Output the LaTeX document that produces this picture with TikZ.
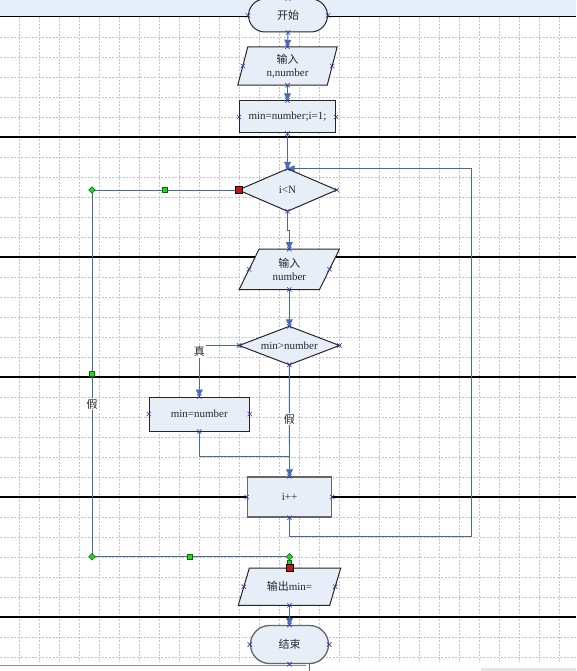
\documentclass[tikz,border=0pt]{standalone}
\usepackage{fontspec}
\setmainfont{Liberation Serif}
\newfontfamily\cjk{Noto Sans CJK SC}
\usetikzlibrary{arrows.meta,calc}
\definecolor{shapefill}{RGB}{232,238,248}
\definecolor{connc}{RGB}{74,104,160}
\definecolor{tipc}{RGB}{68,108,190}
\definecolor{cpcol}{RGB}{50,50,170}
\definecolor{gridc}{RGB}{195,195,195}
\definecolor{bandc}{RGB}{230,238,250}
\definecolor{txtc}{RGB}{40,40,40}
\definecolor{gfill}{RGB}{40,210,40}
\definecolor{gdraw}{RGB}{0,110,0}
\definecolor{rfill}{RGB}{200,20,20}
\pgfdeclarelayer{bg}\pgfdeclarelayer{connlayer}\pgfdeclarelayer{shp}
\pgfsetlayers{bg,connlayer,shp,main}
\tikzset{
  box/.style={rectangle, inner sep=0pt, align=center, font=\fontsize{11}{13}\selectfont, text=txtc},
  procbox/.style={box, draw=black!85, line width=1pt, fill=shapefill},
  procgray/.style={box, draw=black!60, line width=1.5pt, fill=shapefill},
  shapeline/.style={draw=black!85, line width=1pt, fill=shapefill},
  connline/.style={draw=connc, line width=0.9pt},
  arr/.style={connline, -{Triangle[length=7pt,width=7pt,color=tipc]}},
  lbl/.style={fill=white, inner sep=1pt, font=\fontsize{11}{13}\selectfont, text=txtc},
  gridl/.style={draw=gridc, line width=0.5pt, dash pattern=on 2pt off 1.5pt},
  pagel/.style={draw=black, line width=1.1pt},
  gdia/.style={rectangle, rotate=45, minimum size=4.6pt, inner sep=0pt, fill=gfill, draw=gdraw, line width=0.5pt},
  gsq/.style={rectangle, minimum size=5pt, inner sep=0pt, fill=gfill, draw=gdraw, line width=0.5pt},
  rsq/.style={rectangle, minimum size=7pt, inner sep=0pt, fill=rfill, draw=black, line width=0.6pt},
  cp/.pic={\draw[cpcol, line width=0.6pt] (-2.2,-2.2) -- (2.2,2.2) (-2.2,2.2) -- (2.2,-2.2);}
}
\begin{document}
\begin{tikzpicture}[x=1pt,y=-1pt]
\useasboundingbox (0,0) rectangle (576,671);

% ---------- nodes ----------
\node[procbox, minimum width=79pt, minimum height=33pt, rounded corners=16.5pt] (start) at (288,15.5) {\cjk 开始};
\node[box, minimum width=99pt, minimum height=38pt] (in1) at (287.5,66) {\cjk 输入\\n,number};
\node[procbox, minimum width=96pt, minimum height=32pt] (p1) at (287.5,117) {min=number;i=1;};
\node[box, minimum width=98pt, minimum height=42pt] (d1) at (287.5,190) {i<N};
\node[box, minimum width=100pt, minimum height=40pt] (in2) at (289.3,269.3) {{\cjk 输入}\\number};
\node[box, minimum width=100pt, minimum height=38pt] (d2) at (289.3,345.5) {min>number};
\node[procbox, minimum width=100pt, minimum height=34pt] (p2) at (199.3,414) {min=number};
\node[procgray, minimum width=84pt, minimum height=40pt] (p3) at (289.5,497) {i++};
\node[box, minimum width=102pt, minimum height=36.7pt] (out) at (289.5,586.7) {{\cjk 输出}min=};
\node[procgray, line width=1.3pt, minimum width=78pt, minimum height=38pt, rounded corners=19pt] (end) at (289.5,644.5) {\cjk 结束};

\coordinate (loopR) at (471.5,536.3);
\coordinate (merge) at (289.3,456.7);
\coordinate (lfB) at (92,556.7);

% ---------- background ----------
\begin{pgfonlayer}{bg}
  \fill[bandc] (0,0) rectangle (576,16.7);
  \foreach \x in {19.3,39.3,...,560} \draw[gridl] (\x,17) -- (\x,662);
  \foreach \y in {37.3,57.3,...,660} \draw[gridl] (0,\y) -- (576,\y);
  \foreach \y in {16.7,137,257,377,497,617} \draw[pagel] (0,\y) -- (576,\y);
  \draw[black!45, line width=0.8pt] (0,665.5) -- (306,665.5);
  \draw[black!60, line width=0.8pt] (309,660) -- (309,671);
  \fill[black!10] (481,668) rectangle (576,671);
\end{pgfonlayer}

% ---------- shapes drawn as polygons ----------
\begin{pgfonlayer}{shp}
  \draw[shapeline] ($(in1.north west)+(10,0)$) -- (in1.north east) -- ($(in1.south east)+(-10,0)$) -- (in1.south west) -- cycle;
  \draw[shapeline] (d1.north) -- (d1.east) -- (d1.south) -- (d1.west) -- cycle;
  \draw[shapeline] ($(in2.north west)+(20,0)$) -- (in2.north east) -- ($(in2.south east)+(-20,0)$) -- (in2.south west) -- cycle;
  \draw[shapeline] (d2.north) -- (d2.east) -- (d2.south) -- (d2.west) -- cycle;
  \draw[shapeline] ($(out.north west)+(11,0)$) -- (out.north east) -- ($(out.south east)+(-11,0)$) -- (out.south west) -- cycle;
\end{pgfonlayer}

% ---------- connectors ----------
\begin{pgfonlayer}{connlayer}
  \draw[arr] (start.south) -- (in1.north);
  \draw[arr] (in1.south) -- (p1.north);
  \draw[arr] (p1.south) -- (d1.north);
  \draw[arr] (p3.south) |- (loopR) |- (d1.north);
  \draw[arr] (d1.south) -- ++(0,19) -| (in2.north);
  \draw[arr] (in2.south) -- (d2.north);
  \draw[arr] (d2.west) -| node[lbl, pos=0.5, yshift=-6pt] {\cjk 真} (p2.north);
  \draw[arr] (d2.south) -- node[lbl, pos=0.49] {\cjk 假} (p3.north);
  \draw[connline] (p2.south) |- (merge);
  \draw[connline] (d1.west) -| node[lbl, pos=0.792] {\cjk 假} (lfB) -| (out.north);
  \draw[arr] (out.south) -- (end.north);
\end{pgfonlayer}

% ---------- connection point marks ----------
\foreach \p in {start.west,start.east,start.north,start.south,
  in1.north,in1.south,p1.north,p1.south,p1.west,p1.east,
  d1.north,d1.south,d1.east,in2.north,in2.south,
  d2.north,d2.south,d2.west,d2.east,
  p2.north,p2.south,p2.west,p2.east,
  p3.north,p3.south,p3.west,p3.east,
  out.south,end.north,end.south,end.west,end.east}
  \pic at (\p) {cp};
\pic at ($(in1.west)+(5,0)$) {cp};
\pic at ($(in1.east)+(-5,0)$) {cp};
\pic at ($(in2.west)+(10,0)$) {cp};
\pic at ($(in2.east)+(-10,0)$) {cp};
\pic at ($(out.west)+(5.5,0)$) {cp};
\pic at ($(out.east)+(-5.5,0)$) {cp};

% ---------- glue / selection markers ----------
\node[gdia] (ga) at (92,190) {};
\node[gsq] (gb) at (164.3,190) {};
\node[gsq] (gc) at (92,373.3) {};
\node[gdia] (gd) at (lfB) {};
\node[gsq] (ge) at (190,556.7) {};
\node[gdia] (gf) at (289.5,556.7) {};
\node[gsq, minimum size=4pt] (gg) at (289.5,562) {};
\node[rsq] (ra) at (d1.west) {};
\node[rsq] (rb) at (out.north) {};
\end{tikzpicture}
\end{document}
